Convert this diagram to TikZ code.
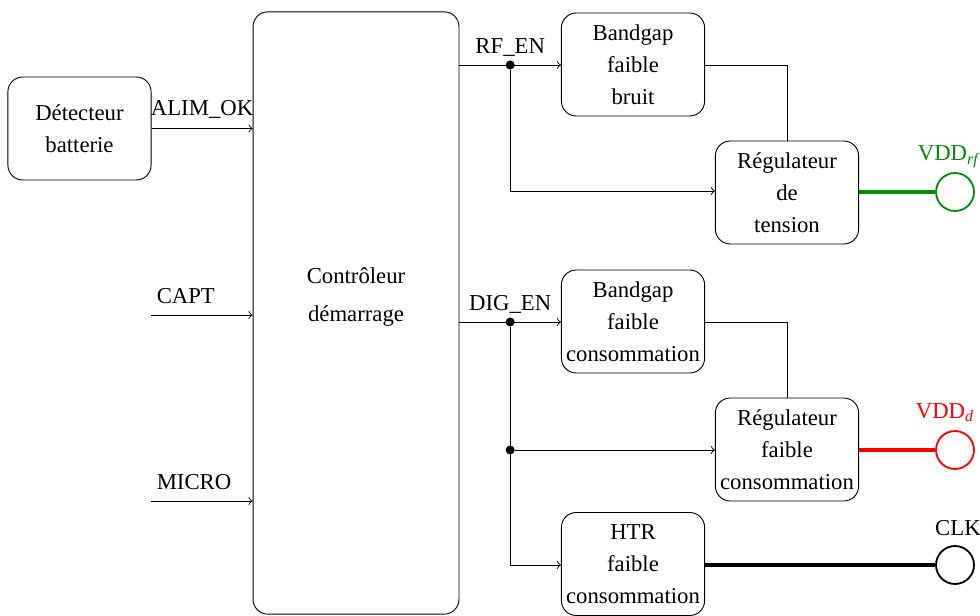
\documentclass[tikz,border=0pt]{standalone}
\usepackage{fontspec}
\setmainfont{Liberation Serif}
\usetikzlibrary{calc}

\begin{document}
\begin{tikzpicture}[x=0.44pt,y=-0.44pt,>=to,
	bloc/.style={draw,rounded corners=6.5pt,minimum width=63pt,minimum height=45.3pt,inner sep=1pt,align=center,font=\fontsize{10}{14}\selectfont},
	sortie/.style={draw,circle,thick,minimum size=16.7pt,inner sep=0pt},
	pt/.style={circle,fill,inner sep=0pt,minimum size=4pt}]
	\definecolor{vert}{rgb}{0,0.55,0}
	\useasboundingbox (0,0) rectangle (980,615);
	\node[bloc] (det) at (79.5,128.5) {Détecteur\\batterie}; %détecteur
	\node[draw,rounded corners=6.5pt,minimum width=90.6pt,minimum height=265pt] (ctrl) at (356,313) {}; %contrôleur
	\node[align=center,font=\fontsize{10}{16.5}\selectfont] (ctrltxt) at (356,297) {Contrôleur\\démarrage};
	% blocs RF
	\node[bloc] (bgrf) at (633,64.5) {Bandgap\\faible\\bruit};
	\node[bloc] (regrf) at (787,192.5) {Régulateur\\de\\tension};
	% blocs numériques
	\node[bloc] (bgd) at (633,321.5) {Bandgap\\faible\\consommation};
	\node[bloc] (regd) at (787,449.5) {Régulateur\\faible\\consommation};
	\node[bloc] (htr) at (633,564) {HTR\\faible\\consommation};
	% sorties
	\node[sortie,vert,label={[text=vert,xshift=-2.9pt,yshift=-1.5pt]above:VDD\textsubscript{\itshape rf}}] (vddrf) at (955,192) {};
	\node[sortie,red,label={[text=red,xshift=-4.4pt]above:VDD\textsubscript{\itshape d}}] (vddd) at (955,450) {};
	\node[sortie,label={[xshift=1.3pt,yshift=0.8pt]above:CLK}] (clk) at (955,565) {};
	% entrées
	\coordinate (capt) at (151,315);
	\coordinate (micro) at (151,501);
	\draw[->] (det.east) -- (det.east -| ctrl.west) node[midway,above,yshift=0.8pt]{ALIM\_OK};
	\draw[->] (capt) -- (capt -| ctrl.west) node[pos=0,above right,xshift=-1pt,yshift=1.6pt]{CAPT};
	\draw[->] (micro) -- (micro -| ctrl.west) node[pos=0,above right,xshift=-1pt,yshift=1.6pt]{MICRO};
	% RF_EN
	\draw[->] (ctrl.east |- 0,65) -- (bgrf.west |- 0,65) node[midway,above,yshift=0.4pt]{RF\_EN};
	\coordinate (rf) at ($(ctrl.east |- 0,65)!0.5!(bgrf.west |- 0,65)$);
	\node[pt] (rfpt) at (rf) {};
	\draw[->] (rfpt) |- (regrf.west |- 0,191);
	\draw (bgrf.east |- 0,65) -| (regrf.north);
	\draw[vert,line width=1.6pt] (regrf.east |- vddrf) -- (vddrf.west);
	% DIG_EN
	\draw[->] (ctrl.east |- 0,322) -- (bgd.west |- 0,322) node[midway,above,yshift=0.4pt]{DIG\_EN};
	\coordinate (dig) at ($(ctrl.east |- 0,322)!0.5!(bgd.west |- 0,322)$);
	\node[pt] (digpt) at (dig) {};
	\node[pt] (digpt2) at (dig |- vddd) {};
	\draw[->] (digpt) |- (htr.west |- clk);
	\draw[->] (digpt2) -- (regd.west |- vddd);
	\draw (bgd.east |- 0,322) -| (regd.north);
	\draw[red,line width=1.6pt] (regd.east |- vddd) -- (vddd.west);
	\draw[line width=1.6pt] (htr.east |- clk) -- (clk.west);
\end{tikzpicture}
\end{document}
